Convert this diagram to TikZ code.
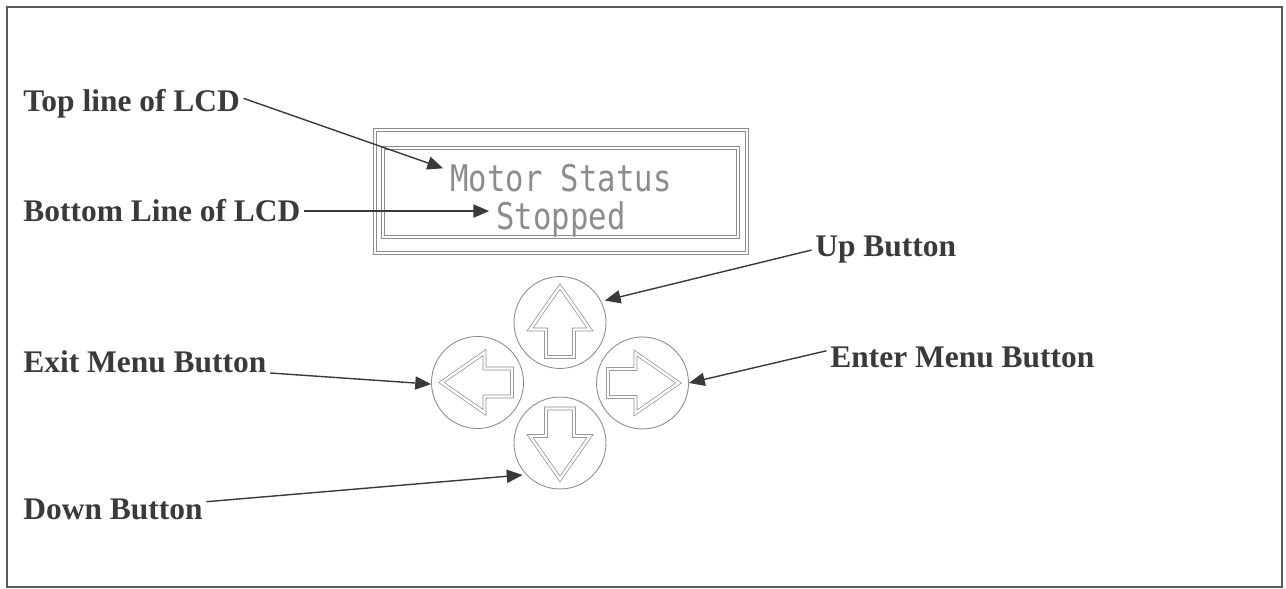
\documentclass[tikz,border=0pt]{standalone}
\usepackage{fontspec}
\usepackage{graphicx}
\setmainfont{Liberation Serif}
\newfontfamily\lcdfont{DejaVu Sans Mono}
\usetikzlibrary{arrows.meta}
\definecolor{labelgray}{HTML}{3A3A3A}
\definecolor{linegray}{HTML}{8C8C8C}

\begin{document}
\begin{tikzpicture}[
    callout/.style={font=\fontsize{17.9}{21}\selectfont\bfseries, text=labelgray, inner sep=2pt, anchor=base west},
    lcdtext/.style={font=\lcdfont\fontsize{17.4}{20}\selectfont, text=black!45, inner sep=4pt, anchor=base},
    pointer/.style={draw=labelgray, line width=0.8pt, -{Triangle[length=9pt,width=7.5pt]}},
    button/.style={circle, draw=linegray, line width=0.5pt, minimum size=1.84cm, inner sep=0pt},
    keyshape/.style={draw=linegray, line width=0.4pt, double, double distance=1.4pt}
]
    \useasboundingbox (0,0) rectangle (25.72,11.78);

    % Outer frame
    \draw[line width=1pt, black!65] (0.14,0.04) rectangle (25.64,11.64);

    % LCD panel
    \draw[keyshape] (7.5,6.72) rectangle (14.94,9.18);
    \draw[keyshape] (7.66,7.04) rectangle (14.76,8.82);
    \node[lcdtext] (motor) at (11.22,7.94) {\scalebox{1}[1.2]{Motor Status}};
    \node[lcdtext] (stopped) at (11.22,7.18) {\scalebox{1}[1.2]{Stopped}};

    % Buttons with arrow keys
    \foreach \name/\x/\y/\ang in {btnup/11.2/5.33/0, btnleft/9.55/4.13/90, btnright/12.85/4.12/-90, btndown/11.2/2.92/180} {
        \node[button] (\name) at (\x,\y) {};
        \draw[keyshape, shift={(\x,\y)}, rotate=\ang] (0,0.72) -- (0.6,-0.14) -- (0.28,-0.14) -- (0.28,-0.69)
            -- (-0.28,-0.69) -- (-0.28,-0.14) -- (-0.6,-0.14) -- cycle;
    }

    % Labels
    \node[callout] (toplbl) at (0.39,9.54) {Top line of LCD};
    \node[callout] (botlbl) at (0.39,7.34) {Bottom Line of LCD};
    \node[callout] (exitlbl) at (0.39,4.32) {Exit Menu Button};
    \node[callout] (downlbl) at (0.39,1.38) {Down Button};
    \node[callout] (uplbl) at (16.23,6.64) {Up Button};
    \node[callout] (enterlbl) at (16.53,4.42) {Enter Menu Button};

    % Pointers
    \draw[pointer] (toplbl.3) -- (motor.175);
    \draw[pointer] (botlbl.east) -- (stopped.west |- botlbl.east);
    \draw[pointer, shorten >=2pt] (uplbl.west) -- (btnup.27);
    \draw[pointer] (exitlbl.base east) -- (btnleft.182);
    \draw[pointer] (enterlbl.177) -- (btnright.east);
    \draw[pointer, shorten >=2pt] (downlbl.5) -- (btndown.223);
\end{tikzpicture}
\end{document}
